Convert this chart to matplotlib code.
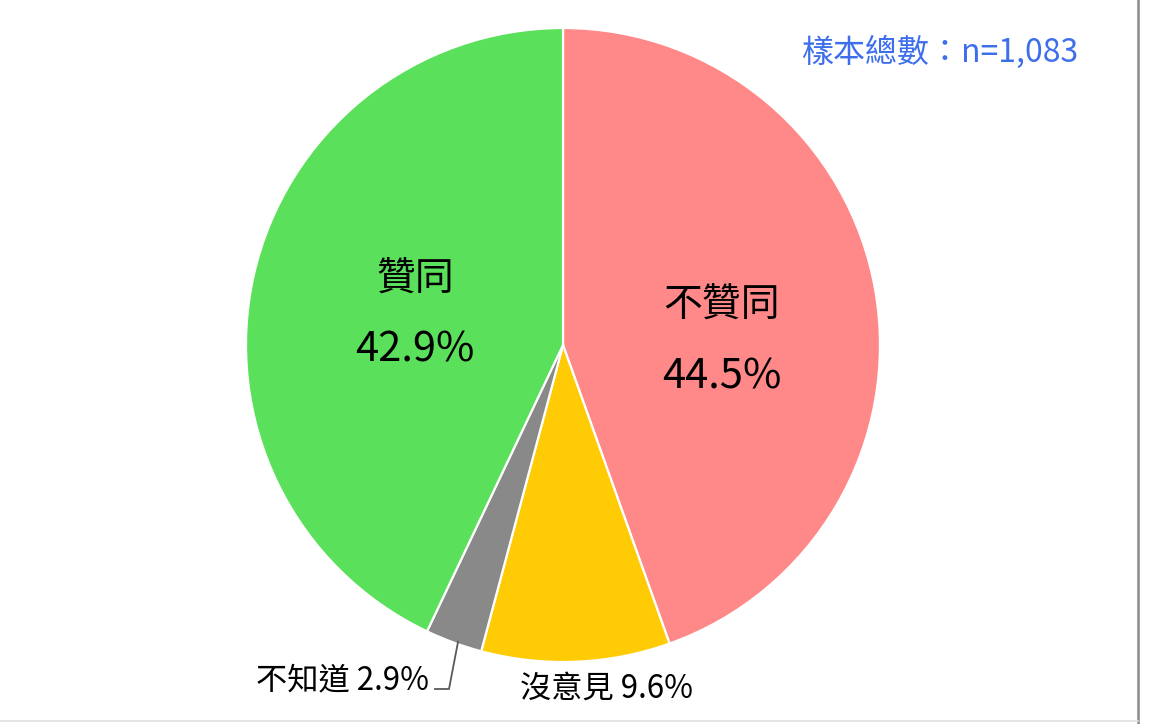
import matplotlib
matplotlib.use("Agg")
import matplotlib.pyplot as plt

plt.rcParams['font.family'] = ['Noto Sans CJK TC', 'DejaVu Sans']

labels = ['不贊同', '沒意見', '不知道', '贊同']
values = [44.5, 9.6, 2.9, 42.9]
colors = ['#FF8989', '#FFCB05', '#898989', '#5AE05A']
sample_note = '樣本總數：n=1,083'

W, H = 1170, 724
fig = plt.figure(figsize=(W / 100, H / 100), dpi=100)
ax = fig.add_axes([0, 0, 1, 1])

def py(y):
    # pixel row (from top) -> data y
    return H - y

ax.pie(values, colors=colors, startangle=90, counterclock=False,
       center=(563, py(345)), radius=317,
       wedgeprops=dict(edgecolor='white', linewidth=1.6))
ax.set_xlim(0, W)
ax.set_ylim(0, H)
ax.set_aspect('auto')
ax.axis('off')

cjk_size = 28
num_size = 30
# inside labels
ax.text(722, py(306), labels[0], fontsize=cjk_size, ha='center', va='center')
ax.text(722, py(377), f'{values[0]}%', fontsize=num_size, ha='center', va='center')
ax.text(415, py(280), labels[3], fontsize=cjk_size, ha='center', va='center')
ax.text(415, py(350), f'{values[3]}%', fontsize=num_size, ha='center', va='center')

# outside labels
small = 22.5
ax.text(429, py(680), f'{labels[2]} {values[2]}%', fontsize=small, ha='right', va='center')
ax.text(607, py(689), f'{labels[1]} {values[1]}%', fontsize=small, ha='center', va='center')
ax.plot([458, 449, 435], [py(642), py(689), py(689)], color='#595959', lw=1.3)

ax.text(940, py(52), sample_note, fontsize=23, color='#3D6EEB', ha='center', va='center')

# frame lines at right/bottom
ax.plot([1138, 1138], [0, H], color='#8a8a8a', lw=1.8)
ax.plot([0, 1138], [py(721), py(721)], color='#e0e0e0', lw=1.2)

fig.savefig('out.png', dpi=100)
